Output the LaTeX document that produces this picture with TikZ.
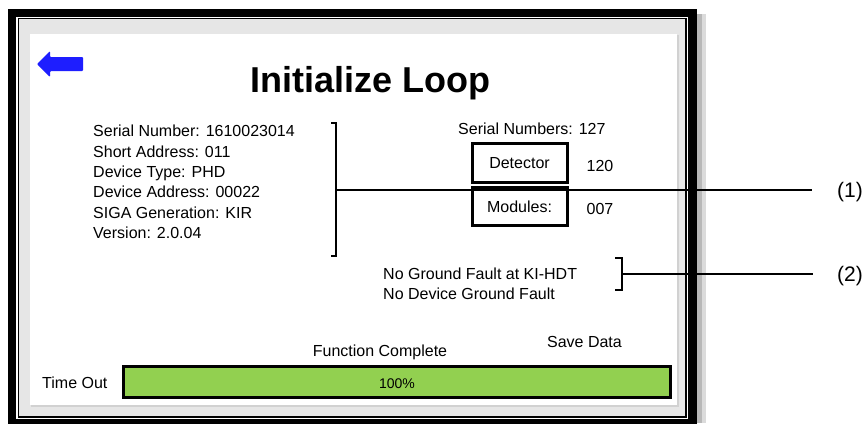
\documentclass[tikz,border=0pt]{standalone}
\usepackage{fontspec}
\setmainfont{Liberation Sans}
\definecolor{bandgray}{RGB}{230,230,230}
\definecolor{arrowblue}{RGB}{30,30,255}
\definecolor{bargreen}{RGB}{146,208,80}
\begin{document}
\begin{tikzpicture}[x=1pt,y=-1pt,
  txt/.style={inner sep=0pt, font=\fontsize{16}{19}\selectfont, anchor=base west},
  ctxt/.style={inner sep=0pt, font=\fontsize{16}{19}\selectfont, anchor=base},
  calltxt/.style={inner sep=0pt, font=\fontsize{21}{24}\selectfont, anchor=base west},
  boxnode/.style={draw, line width=3pt, minimum width=95pt, inner sep=0pt},
  lead/.style={line width=1.3pt},
  brk/.style={line width=1.2pt}]
\useasboundingbox (0,0) rectangle (867,423);
\fill[white] (0,0) rectangle (867,423);
% frame shadow
\fill[black!28] (697,14) rectangle (702,423);
\fill[black!14] (702,14) rectangle (706,423);
% outer frame
\fill[black] (8,9) rectangle (697,426);
\fill[white] (16,17) rectangle (688,419);
\draw[line width=1.1pt] (18.5,18.5) rectangle (686,417);
\fill[bandgray] (19.2,19.2) rectangle (685.3,416.3);
% panel
\fill[black!18] (31,35) rectangle (679,407);
\fill[white] (30,34) rectangle (677,405);
% back arrow
\fill[arrowblue, rounded corners=1pt] (37,64) -- (50,51) -- (50,57) -- (83,57) -- (83,71) -- (50,71) -- (50,77) -- cycle;
% title
\node[inner sep=0pt, anchor=base, font=\fontsize{36}{40}\selectfont\bfseries] (title) at (370,92) {Initialize Loop};
% left info
\node[txt] (s1) at (93,136) {Serial Number: 1610023014};
\node[txt] (s2) at (93,157) {Short Address: 011};
\node[txt] (s3) at (93,177) {Device Type: PHD};
\node[txt] (s4) at (93,197) {Device Address: 00022};
\node[txt] (s5) at (93,218) {SIGA Generation: KIR};
\node[txt] (s6) at (93,238) {Version: 2.0.04};
% bracket 1
\coordinate (b1t) at (331,123);
\coordinate (b1b) at (331,256);
\coordinate (b1) at (336,190);
\draw[brk] (b1t) -- (336,123) -- (336,256) -- (b1b);
% right info
\node[txt] (sn) at (458,134) {Serial Numbers: 127};
\node[boxnode, minimum height=39pt] (det) at (519.5,162.5) {};
\node[ctxt] (dett) at (519.5,168) {Detector};
\node[boxnode, minimum height=38pt] (mod) at (519.5,206) {};
\node[ctxt] (modt) at (519.5,212) {Modules:};
\node[ctxt] (n120) at (600,171) {120};
\node[ctxt] (n007) at (600,214) {007};
% ground fault
\node[txt] (g1) at (383,279) {No Ground Fault at KI-HDT};
\node[txt] (g2) at (383,299) {No Device Ground Fault};
\coordinate (b2) at (622,274);
\draw[brk] (615,258) -- (622,258) -- (622,290) -- (615,290);
% callouts
\node[calltxt] (c1) at (837,197.5) {(1)};
\node[calltxt] (c2) at (837,281.5) {(2)};
\coordinate (e1) at (812,190);
\coordinate (e2) at (813,274);
\draw[lead] (b1) -- (e1);
\draw[lead] (b2) -- (e2);
% bottom
\node[ctxt] (fc) at (380,356) {Function Complete};
\node[ctxt] (sd) at (584.5,347) {Save Data};
\node[txt] (to) at (42,388) {Time Out};
\node[draw, line width=3pt, fill=bargreen, minimum width=547pt, minimum height=31pt, inner sep=0pt] (bar) at (397,382) {};
\node[inner sep=0pt, anchor=base, font=\fontsize{14}{17}\selectfont] (pct) at (397,388) {100\%};
\end{tikzpicture}
\end{document}
